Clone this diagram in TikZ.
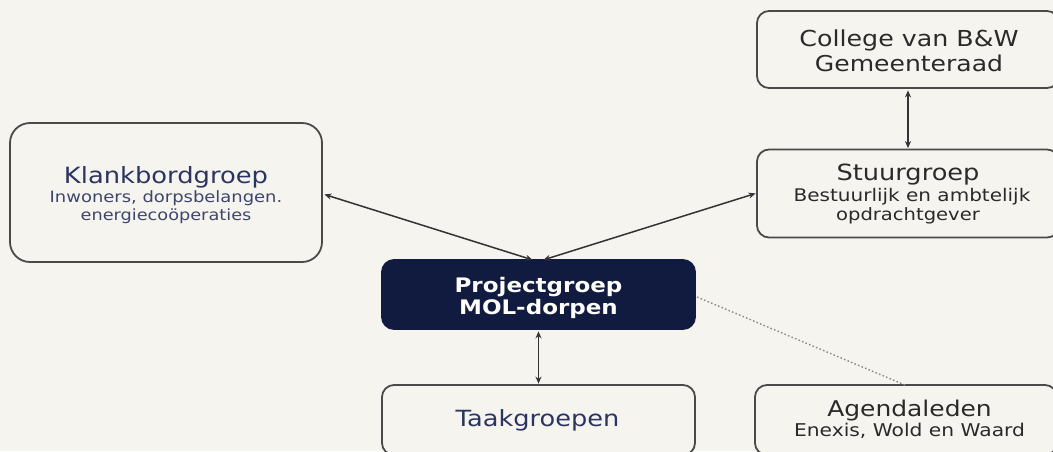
\documentclass[tikz,border=0pt]{standalone}
\usepackage{fontspec}
\setmainfont{DejaVu Sans}[FakeStretch=1.15]
\usetikzlibrary{arrows.meta}
\definecolor{bg}{HTML}{F5F4EF}
\definecolor{navy}{HTML}{111A3F}
\definecolor{navytxt}{HTML}{2B3563}
\definecolor{navysub}{HTML}{3D466F}
\definecolor{boxline}{HTML}{4A4A4A}
\definecolor{txtgray}{HTML}{2A2A2A}
\tikzset{
  box/.style={draw=boxline, line width=1.8pt, rounded corners=12pt, fill=bg, inner sep=0pt},
  lbl/.style={anchor=base, inner sep=0pt, text=txtgray},
  link/.style={draw=black!80, line width=1.5pt, {Stealth[length=7pt,width=6pt]}-{Stealth[length=7pt,width=6pt]}, shorten <=1.5pt, shorten >=0.5pt},
  dotlink/.style={draw=black!45, line width=1.4pt, dash pattern=on 1.6pt off 2.2pt},
}
\newcommand{\fs}[1]{\fontsize{#1}{#1}\selectfont}
\begin{document}
\begin{tikzpicture}[x=1pt,y=-1pt]
\fill[bg] (0,0) rectangle (1053,451);
\clip (0,0) rectangle (1053,451);
% boxes
\node[box, rounded corners=20pt, minimum width=312pt, minimum height=139pt] (klank) at (166,192.5) {};
\node[box, minimum width=302pt, minimum height=77pt] (college) at (908,49.5) {};
\node[box, minimum width=302pt, minimum height=88pt] (stuur) at (908,193.5) {};
\node[box, fill=navy, draw=navy, minimum width=313pt, minimum height=69pt] (proj) at (538.5,294.5) {};
\node[box, minimum width=313pt, minimum height=70pt] (taak) at (538.5,420) {};
\node[box, minimum width=302pt, minimum height=70pt] (agenda) at (906,420) {};
% texts
\node[lbl, text=navytxt, font=\fs{22.4}] (klankT) at (166,183) {Klankbordgroep};
\node[lbl, text=navysub, font=\fs{15.6}] (klankS1) at (166,202) {Inwoners, dorpsbelangen.};
\node[lbl, text=navysub, font=\fs{15.4}] (klankS2) at (166,220) {energiecoöperaties};
\node[lbl, font=\fs{22}] (collegeT) at (909,46) {College van B\&W};
\node[lbl, font=\fs{21.8}] (collegeT2) at (909,71) {Gemeenteraad};
\node[lbl, font=\fs{22.3}] (stuurT) at (908,180) {Stuurgroep};
\node[lbl, font=\fs{17.4}] (stuurS1) at (912,201.5) {Bestuurlijk en ambtelijk};
\node[lbl, font=\fs{17}] (stuurS2) at (908,220) {opdrachtgever};
\node[lbl, text=white, font=\fs{20}\bfseries] (projT) at (538.5,292.5) {Projectgroep};
\node[lbl, text=white, font=\fs{20}\bfseries] (projT2) at (538.5,314) {MOL-dorpen};
\node[lbl, text=navytxt, font=\fs{22.3}] (taakT) at (537.5,426) {Taakgroepen};
\node[lbl, font=\fs{21.7}] (agendaT) at (909.5,416) {Agendaleden};
\node[lbl, font=\fs{17.6}] (agendaS) at (909.5,436.5) {Enexis, Wold en Waard};
% connectors
\coordinate (kA) at (323,194);
\coordinate (pA) at (533,260);
\coordinate (sA) at (757,193);
\coordinate (pB) at (543,260);
\draw[link] (kA) -- (pA);
\draw[link] (sA) -- (pB);
\draw[link] (proj.south) -- (taak.north);
\draw[link] (college.south) -- (stuur.north);
\coordinate (pR) at (697,297);
\coordinate (aT) at (905,385);
\draw[dotlink] (pR) -- (aT);
\end{tikzpicture}
\end{document}
